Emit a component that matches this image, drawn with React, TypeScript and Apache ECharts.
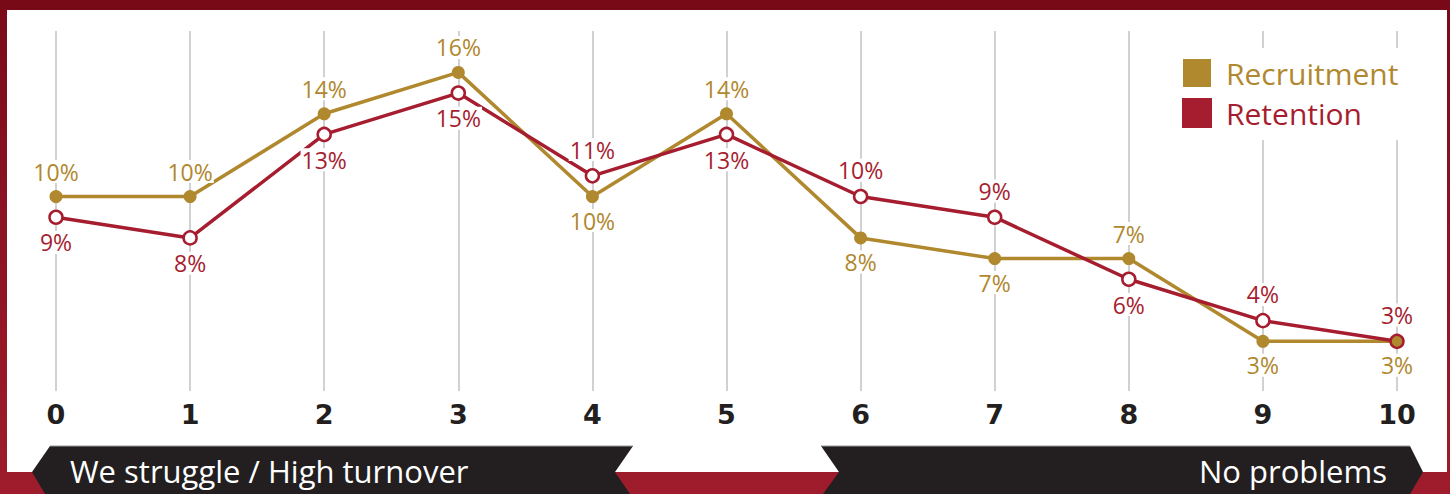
import React, { useEffect, useRef } from "react";
import * as echarts from "echarts";

const categories = ["0", "1", "2", "3", "4", "5", "6", "7", "8", "9", "10"];
const recruitment = [10, 10, 14, 16, 10, 14, 8, 7, 7, 3, 3];
const retention = [9, 8, 13, 15, 11, 13, 10, 9, 6, 4, 3];
const recruitmentLabelPos = ["top", "top", "top", "top", "bottom", "top", "bottom", "bottom", "top", "bottom", "bottom"];
const retentionLabelPos = ["bottom", "bottom", "bottom", "bottom", "top", "bottom", "top", "top", "bottom", "top", "top"];
const seriesNames = ["Recruitment", "Retention"];
const bannerLeftText = "We struggle / High turnover";
const bannerRightText = "No problems";

const GOLD = "#b0882e";
const RED = "#a61d2f";
const DARK = "#231f20";
const FONT = "'Open Sans', 'Noto Sans', sans-serif";

export default function App() {
  const ref = useRef<HTMLDivElement>(null);

  useEffect(() => {
    if (!ref.current) return;
    const chart = echarts.init(ref.current, undefined, { renderer: "svg" });

    const labelFor = (pos: string, color: string) => ({
      show: true,
      position: pos,
      distance: pos === "top" ? 7 : 6,
      formatter: "{c}%",
      color,
      fontFamily: FONT,
      fontSize: 23,
      backgroundColor: "#fff",
      padding: [0, 1],
    });

    const option: any = {
      animation: false,
      backgroundColor: "transparent",
      grid: { left: 56, right: 53, top: 31, bottom: 103, containLabel: false },
      xAxis: {
        type: "category",
        data: categories,
        boundaryGap: false,
        axisLine: { show: false },
        axisTick: { show: false },
        axisLabel: {
          color: DARK,
          fontFamily: "'DejaVu Sans', sans-serif",
          fontWeight: "bold",
          fontSize: 27,
          margin: 10,
        },
        splitLine: { show: true, lineStyle: { color: "#c2c2c2", width: 1.5 } },
      },
      yAxis: {
        type: "value",
        min: 0.6,
        max: 18,
        show: false,
        splitLine: { show: false },
      },
      legend: {
        orient: "vertical",
        left: 1176,
        top: 48,
        padding: [10, 6, 12, 6],
        backgroundColor: "#fff",
        itemWidth: 28,
        itemHeight: 28,
        itemGap: 10,
        icon: "rect",
        data: [
          { name: seriesNames[0], itemStyle: { color: GOLD }, textStyle: { color: GOLD } },
          { name: seriesNames[1], itemStyle: { color: RED }, textStyle: { color: RED } },
        ],
        textStyle: { fontFamily: FONT, fontSize: 30, padding: [0, 0, 0, 10] },
      },
      series: [
        {
          name: seriesNames[0],
          type: "line",
          z: 2,
          data: recruitment.map((v, i) => ({ value: v, label: labelFor(recruitmentLabelPos[i], GOLD) })),
          lineStyle: { color: GOLD, width: 3.5 },
          itemStyle: { color: GOLD },
          symbol: "circle",
          symbolSize: 13,
        },
        {
          name: seriesNames[1],
          type: "line",
          z: 3,
          data: retention.map((v, i) => ({
            value: v,
            label: labelFor(retentionLabelPos[i], RED),
            itemStyle: i === retention.length - 1 ? { color: GOLD, borderColor: RED, borderWidth: 2.5 } : undefined,
          })),
          lineStyle: { color: RED, width: 3.5 },
          itemStyle: { color: "#fff", borderColor: RED, borderWidth: 2.5 },
          symbol: "circle",
          symbolSize: 13,
        },
      ],
      graphic: [
        {
          type: "polygon",
          shape: { points: [[50, 446], [633, 446], [615, 472], [630, 494], [45, 494], [32, 472]] },
          style: { fill: DARK },
        },
        {
          type: "polygon",
          shape: { points: [[821, 446], [1410, 446], [1423, 472], [1410, 494], [823, 494], [839, 472]] },
          style: { fill: DARK },
        },
        { type: "line", shape: { x1: 50, y1: 446, x2: 633, y2: 446 }, style: { stroke: "#9a9a9a", lineWidth: 1 } },
        { type: "line", shape: { x1: 821, y1: 446, x2: 1410, y2: 446 }, style: { stroke: "#9a9a9a", lineWidth: 1 } },
        {
          type: "text",
          x: 70,
          y: 471,
          style: {
            text: bannerLeftText,
            fill: "#fff",
            font: `31px ${FONT}`,
            textAlign: "left",
            textVerticalAlign: "middle",
          },
        },
        {
          type: "text",
          x: 1387,
          y: 471,
          style: {
            text: bannerRightText,
            fill: "#fff",
            font: `31px ${FONT}`,
            textAlign: "right",
            textVerticalAlign: "middle",
          },
        },
      ],
    };

    chart.setOption(option);
    return () => chart.dispose();
  }, []);

  return (
    <div
      style={{
        position: "fixed",
        left: 0,
        top: 0,
        width: 1450,
        height: 494,
        background: "linear-gradient(to bottom, #780a18 0%, #8a1222 40%, #9e1c2b 100%)",
        overflow: "hidden",
      }}
    >
      <div style={{ position: "absolute", left: 7, top: 10, width: 1440, height: 462, background: "#fff" }} />
      <div ref={ref} style={{ position: "absolute", left: 0, top: 0, width: 1450, height: 494 }} />
    </div>
  );
}
